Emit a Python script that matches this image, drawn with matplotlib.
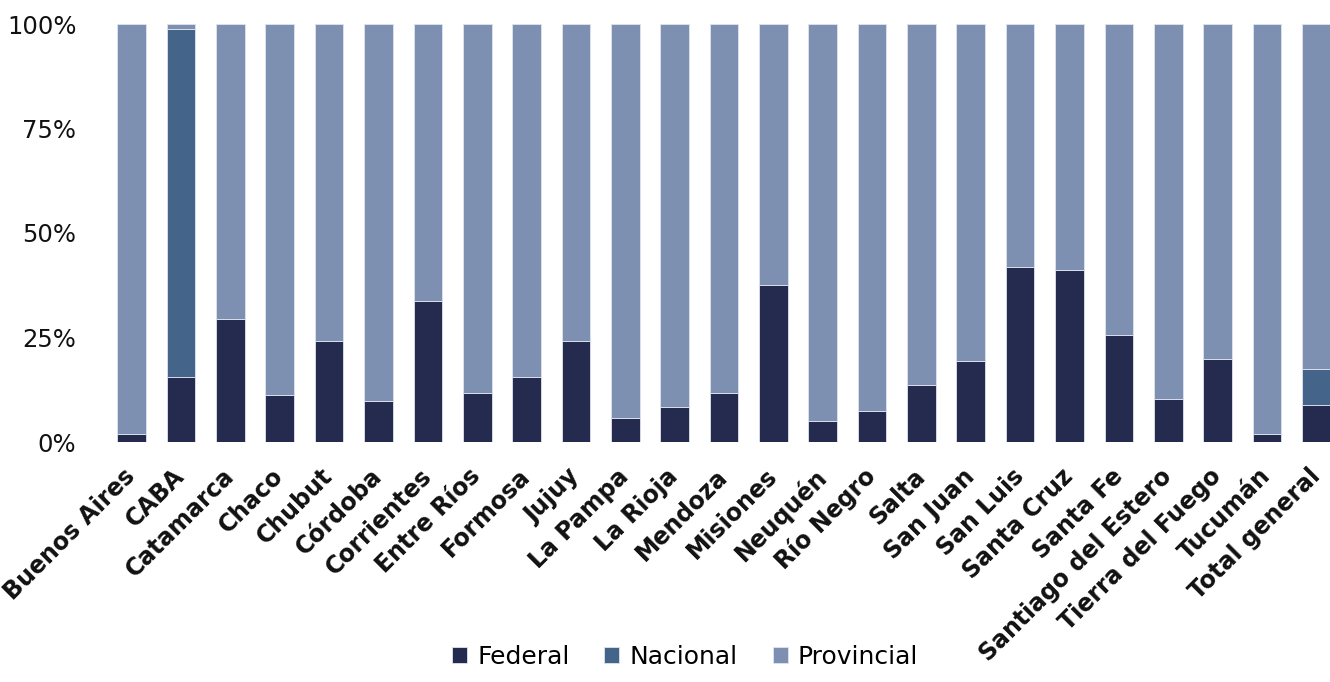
import matplotlib

matplotlib.use("Agg")

import numpy as np
from matplotlib import pyplot as plt

plt.rcParams["font.family"] = ["DejaVu Sans"]

provincias = [
    "Buenos Aires", "CABA", "Catamarca", "Chaco", "Chubut", "Córdoba",
    "Corrientes", "Entre Ríos", "Formosa", "Jujuy", "La Pampa", "La Rioja",
    "Mendoza", "Misiones", "Neuquén", "Río Negro", "Salta", "San Juan",
    "San Luis", "Santa Cruz", "Santa Fe", "Santiago del Estero",
    "Tierra del Fuego", "Tucumán", "Total general",
]

# shares in %
federal = [2.0, 15.6, 29.5, 11.2, 24.2, 9.9, 33.8, 11.8, 15.6, 24.2, 5.8, 8.4,
           11.7, 37.6, 5.0, 7.3, 13.7, 19.4, 41.9, 41.2, 25.6, 10.3, 19.9, 1.8, 8.8]
nacional = [0.0, 83.2, 0.0, 0.0, 0.0, 0.0, 0.0, 0.0, 0.0, 0.0, 0.0, 0.0,
            0.0, 0.0, 0.0, 0.0, 0.0, 0.0, 0.0, 0.0, 0.0, 0.0, 0.0, 0.0, 8.7]
provincial = [98.0, 1.2, 70.5, 88.8, 75.8, 90.1, 66.2, 88.2, 84.4, 75.8, 94.2, 91.6,
              88.3, 62.4, 95.0, 92.7, 86.3, 80.6, 58.1, 58.8, 74.4, 89.7, 80.1, 98.2, 82.5]

series = [
    ("Federal", federal, "#252B4F"),
    ("Nacional", nacional, "#44648A"),
    ("Provincial", provincial, "#7D90B2"),
]

fig = plt.figure(figsize=(13.3, 6.82), dpi=100)
ax = fig.add_axes([107 / 1330, 240 / 682, 1234 / 1330, 418 / 682])

x = np.arange(len(provincias))
bottom = np.zeros(len(provincias))
for name, vals, color in series:
    vals = np.array(vals)
    ax.bar(x, vals, width=0.58, bottom=bottom, color=color, label=name,
           edgecolor="#dfe4ee", linewidth=0.6)
    bottom += vals

ax.set_xlim(-0.5, len(provincias) - 0.5)
ax.set_ylim(0, 100)
ax.set_yticks([0, 25, 50, 75, 100])
ax.set_yticklabels(["0%", "25%", "50%", "75%", "100%"], fontsize=17.5, color="#111111")
ax.set_xticks(x)
ax.set_xticklabels(provincias, rotation=45, ha="right", va="center",
                   rotation_mode="anchor", fontsize=17, fontweight="bold",
                   color="#111111")
ax.tick_params(axis="both", length=0)
ax.tick_params(axis="x", pad=22)
ax.tick_params(axis="y", pad=22)
for s in ax.spines.values():
    s.set_visible(False)

fig.legend(loc="lower center", bbox_to_anchor=(0.515, -0.014), ncol=3,
           frameon=False, fontsize=18, handlelength=0.6, handleheight=0.6,
           handletextpad=0.4, columnspacing=1.4)

fig.savefig("out.png", dpi=100)
